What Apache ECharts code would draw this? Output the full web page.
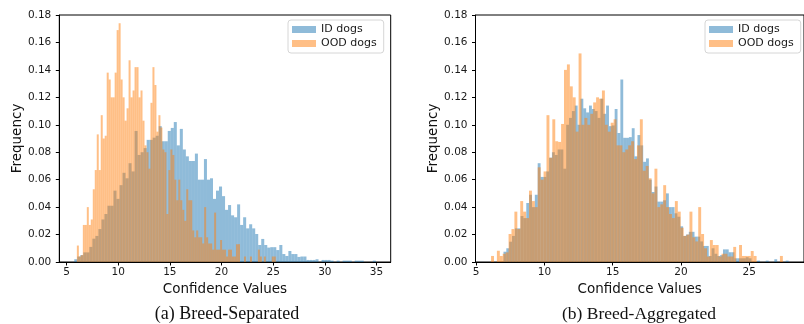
<!doctype html>
<html>
<head>
<meta charset="utf-8">
<title>Confidence histograms</title>
<script src="https://cdn.jsdelivr.net/npm/echarts@6/dist/echarts.min.js"></script>
<style>
html, body { margin: 0; padding: 0; background: #fff; }
#chart { width: 804px; height: 324px; }
</style>
</head>
<body>
<div id="chart"></div>
<script>
// bin ranges [first edge, last edge] (100 bins each)
var leftIdRange = [5.75, 34.93];
var leftOodRange = [6.0, 25.25];
var rightIdRange = [7.0, 27.89];
var rightOodRange = [6.09, 27.47];

var xTicksLeft = [5, 10, 15, 20, 25, 30, 35];
var xTicksRight = [5, 10, 15, 20, 25];

// (a) Breed-Separated
var leftIdFreq = [
  0.002, 0.004, 0.005, 0.007, 0.007, 0.011, 0.017, 0.019, 0.024, 0.031,
  0.035, 0.041, 0.041, 0.052, 0.046, 0.056, 0.065, 0.061, 0.072, 0.066,
  0.0955, 0.078, 0.080, 0.083, 0.089, 0.089, 0.0906, 0.092, 0.099, 0.088,
  0.088, 0.0955, 0.0977, 0.102, 0.085, 0.097, 0.082, 0.077, 0.0736, 0.0736,
  0.079, 0.060, 0.060, 0.075, 0.060, 0.061, 0.046, 0.052, 0.055, 0.048,
  0.038, 0.0415, 0.034, 0.0326, 0.042, 0.027, 0.0326, 0.0245, 0.0275, 0.0245,
  0.0204, 0.0124, 0.0168, 0.0124, 0.0105, 0.0108, 0.0108, 0.0087, 0.0124, 0.0058,
  0.0044, 0.008, 0.0058, 0.0058, 0.0037, 0.004, 0.004, 0.0015, 0.0015, 0.0015,
  0.002, 0, 0.0015, 0.0015, 0.0015, 0.001, 0, 0.001, 0, 0.001,
  0.001, 0.001, 0, 0.001, 0.001, 0.001, 0, 0, 0, 0.001
];
var leftOodFreq = [
  0.012, 0.004, 0.005, 0.027, 0.027, 0.040, 0.027, 0.031, 0.053, 0.067,
  0.093, 0.067, 0.107, 0.090, 0.092, 0.138, 0.133, 0.120, 0.120, 0.138,
  0.169, 0.174, 0.133, 0.120, 0.103, 0.112, 0.147, 0.120, 0.125, 0.142,
  0.142, 0.120, 0.125, 0.103, 0.085, 0.080, 0.068, 0.116, 0.142, 0.129,
  0.095, 0.107, 0.098, 0.082, 0.080, 0.035, 0.067, 0.082, 0.078, 0.060,
  0.045, 0.060, 0.045, 0.038, 0.030, 0.053, 0.045, 0.045, 0.023, 0.018,
  0.023, 0.018, 0.018, 0.0135, 0.040, 0.018, 0.0135, 0.0135, 0.009, 0.036,
  0.009, 0.009, 0.016, 0.009, 0.009, 0.004, 0.009, 0.009, 0.004, 0.004,
  0.013, 0.013, 0, 0, 0.004, 0, 0, 0.004, 0, 0,
  0, 0.009, 0.004, 0, 0.004, 0, 0, 0, 0.004, 0.004
];

// (b) Breed-Aggregated
var rightIdFreq = [
  0.0075, 0.010, 0.0148, 0.019, 0.0245, 0.0245, 0.0335, 0.032, 0.043, 0.049,
  0.040, 0.049, 0.072, 0.062, 0.062, 0.066, 0.076, 0.080, 0.078, 0.082,
  0.082, 0.068, 0.100, 0.105, 0.110, 0.114, 0.100, 0.119, 0.112, 0.109,
  0.114, 0.1115, 0.110, 0.105, 0.119, 0.108, 0.114, 0.099, 0.0995, 0.1115,
  0.094, 0.133, 0.0905, 0.0905, 0.091, 0.0975, 0.077, 0.0925, 0.085, 0.073,
  0.0755, 0.060, 0.051, 0.055, 0.044, 0.044, 0.045, 0.050, 0.040, 0.040,
  0.0355, 0.033, 0.026, 0.019, 0.020, 0.022, 0.022, 0.0185, 0.0185, 0.015,
  0.0117, 0.0117, 0.0044, 0.010, 0.006, 0.0044, 0.005, 0.0092, 0.0092, 0.0071,
  0.0071, 0.0027, 0.0027, 0.0027, 0.0027, 0.0035, 0.0027, 0, 0, 0.001,
  0, 0, 0.001, 0, 0, 0.002, 0, 0, 0, 0.001
];
var rightOodFreq = [
  0.0044, 0, 0.0082, 0.0044, 0.006, 0.007, 0.0204, 0.024, 0.0367, 0.024,
  0.0444, 0.0367, 0.032, 0.052, 0.0444, 0.040, 0.069, 0.060, 0.066, 0.107,
  0.076, 0.104, 0.088, 0.0875, 0.1006, 0.140, 0.144, 0.128, 0.120, 0.095,
  0.152, 0.100, 0.105, 0.100, 0.108, 0.1163, 0.120, 0.119, 0.125, 0.100,
  0.095, 0.1015, 0.104, 0.085, 0.085, 0.080, 0.082, 0.085, 0.088, 0.075,
  0.085, 0.104, 0.0665, 0.070, 0.061, 0.050, 0.068, 0.040, 0.042, 0.056,
  0.040, 0.035, 0.032, 0.0444, 0.0367, 0.025, 0.019, 0.020, 0.0367, 0.018,
  0.015, 0.040, 0.0204, 0.010, 0.004, 0.016, 0.0124, 0.0124, 0.004, 0.006,
  0.006, 0.004, 0.004, 0.011, 0, 0.0124, 0.0044, 0.0044, 0.0044, 0.008,
  0.0044, 0, 0, 0, 0, 0, 0, 0, 0, 0.0044
];

var blue = 'rgba(31,119,180,0.5)';
var orange = 'rgba(255,127,14,0.5)';
var tickFont = 'DejaVu Sans';

function toBins(range, freq) {
  var w = (range[1] - range[0]) / freq.length;
  var out = [];
  for (var i = 0; i < freq.length; i++) {
    out.push([range[0] + i * w, range[0] + (i + 1) * w, freq[i]]);
  }
  return out;
}

function renderBin(params, api) {
  var p0 = api.coord([api.value(0), api.value(2)]);
  var p1 = api.coord([api.value(1), 0]);
  return {
    type: 'rect',
    shape: { x: p0[0], y: p0[1], width: p1[0] - p0[0], height: p1[1] - p0[1] },
    style: { fill: api.visual('color') }
  };
}

function histSeries(name, idx, range, freq, color) {
  return {
    name: name,
    type: 'custom',
    xAxisIndex: idx,
    yAxisIndex: idx,
    renderItem: renderBin,
    itemStyle: { color: color },
    encode: { x: [0, 1], y: 2 },
    silent: true,
    data: toBins(range, freq)
  };
}

function xAxisOf(idx, min, max, ticks) {
  return {
    type: 'value',
    gridIndex: idx,
    min: min,
    max: max,
    name: 'Confidence Values',
    nameLocation: 'middle',
    nameGap: 20,
    nameTextStyle: { fontFamily: tickFont, fontSize: 13.5, color: '#111' },
    splitLine: { show: false },
    axisLine: { show: true, onZero: false, lineStyle: { color: '#000', width: 1 } },
    axisTick: { show: true, customValues: ticks, length: 3.5, lineStyle: { color: '#000' } },
    axisLabel: { customValues: ticks, margin: 5, fontFamily: tickFont, fontSize: 10.5, color: '#1a1a1a' }
  };
}

function yAxisOf(idx) {
  return {
    type: 'value',
    gridIndex: idx,
    min: 0,
    max: 0.18,
    interval: 0.02,
    name: 'Frequency',
    nameLocation: 'middle',
    nameGap: 35,
    nameTextStyle: { fontFamily: tickFont, fontSize: 13.5, color: '#111' },
    splitLine: { show: false },
    axisLine: { show: true, lineStyle: { color: '#000', width: 1 } },
    axisTick: { show: true, length: 3.5, lineStyle: { color: '#000' } },
    axisLabel: {
      margin: 8, fontFamily: tickFont, fontSize: 10.5, color: '#1a1a1a',
      formatter: function (v) { return v.toFixed(2); }
    }
  };
}

function legendAt(left) {
  return {
    left: left,
    top: 20,
    orient: 'vertical',
    itemWidth: 24,
    itemHeight: 7,
    itemGap: 3,
    icon: 'rect',
    padding: [4, 7, 4, 4],
    borderColor: '#d6d6d6',
    borderWidth: 1,
    borderRadius: 3,
    backgroundColor: 'rgba(255,255,255,0.8)',
    selectedMode: false,
    textStyle: { fontFamily: tickFont, fontSize: 11, color: '#1a1a1a' },
    data: ['ID dogs', 'OOD dogs']
  };
}

var chart = echarts.init(document.getElementById('chart'), null, { renderer: 'canvas' });

chart.setOption({
  animation: false,
  backgroundColor: '#fff',
  grid: [
    { left: 59.3, top: 15, width: 331.4, height: 247, show: true, borderColor: '#000', borderWidth: 1 },
    { left: 475.5, top: 15, width: 331.5, height: 247, show: true, borderColor: '#000', borderWidth: 1 }
  ],
  legend: [legendAt(288), legendAt(705)],
  xAxis: [
    xAxisOf(0, 4.3, 36.37, xTicksLeft),
    xAxisOf(1, 4.95, 29.02, xTicksRight)
  ],
  yAxis: [yAxisOf(0), yAxisOf(1)],
  series: [
    histSeries('ID dogs', 0, leftIdRange, leftIdFreq, blue),
    histSeries('OOD dogs', 0, leftOodRange, leftOodFreq, orange),
    histSeries('ID dogs', 1, rightIdRange, rightIdFreq, blue),
    histSeries('OOD dogs', 1, rightOodRange, rightOodFreq, orange)
  ],
  graphic: [
    {
      type: 'text', x: 227, y: 314,
      style: { text: '(a) Breed-Separated', align: 'center', verticalAlign: 'middle',
        font: '18px "Liberation Serif"', fill: '#111' }
    },
    {
      type: 'text', x: 639, y: 314,
      style: { text: '(b) Breed-Aggregated', align: 'center', verticalAlign: 'middle',
        font: '17.5px "Liberation Serif"', fill: '#111' }
    }
  ]
});
</script>
</body>
</html>
